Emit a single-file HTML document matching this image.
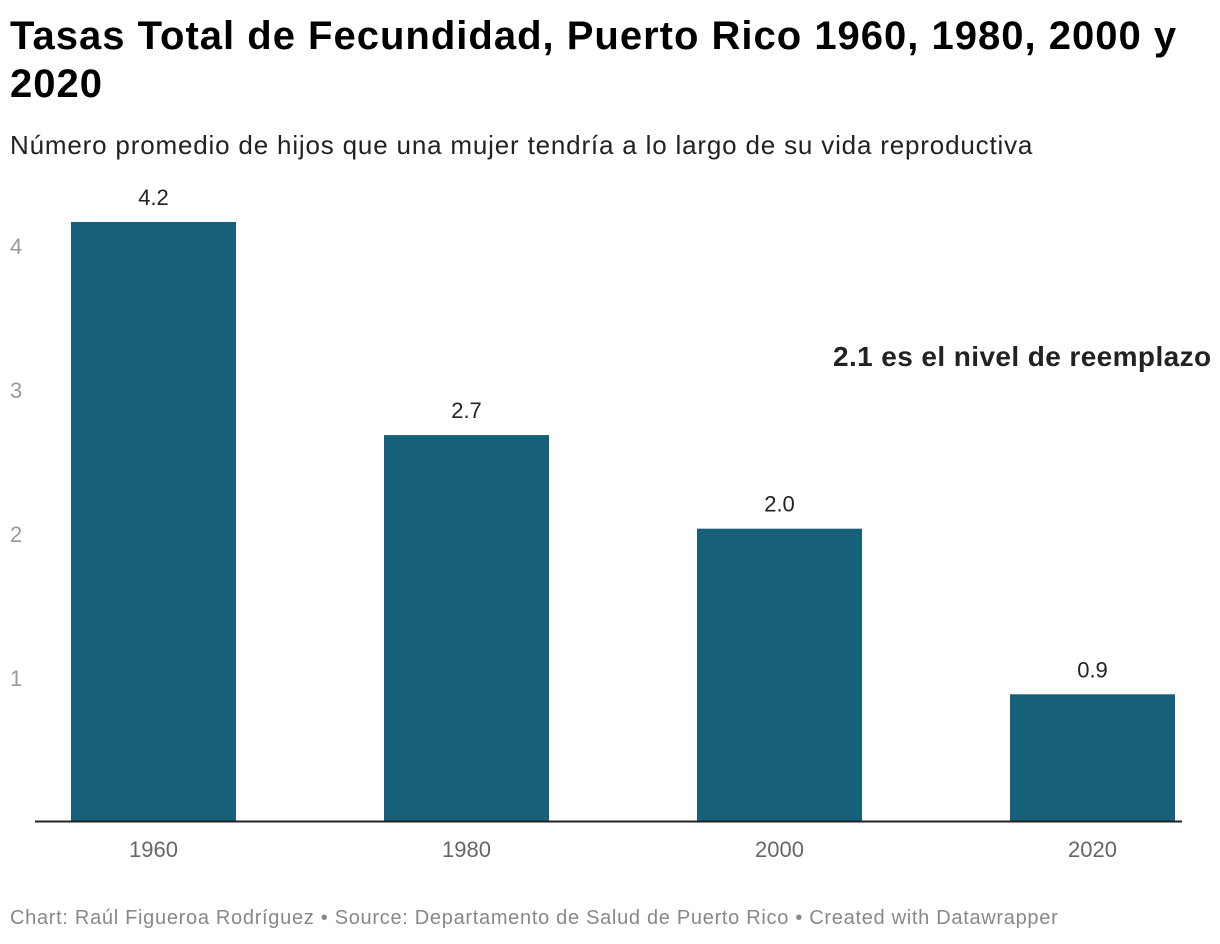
<!DOCTYPE html>
<html><head><meta charset="utf-8"><style>
body{margin:0;background:#fff;font-family:"Liberation Sans",sans-serif;width:1220px;height:944px;overflow:hidden;position:relative}
.t{position:absolute;left:10px;top:12px;font-size:40px;font-weight:bold;line-height:48px;color:#000;width:1210px;letter-spacing:1px}
.s{position:absolute;left:10px;top:130px;font-size:26px;color:#222;letter-spacing:0.82px;white-space:nowrap}
.f{position:absolute;left:10px;top:907px;font-size:20px;color:#888;letter-spacing:0.7px;white-space:nowrap}
</style></head><body>
<div class="t">Tasas Total de Fecundidad, Puerto Rico 1960, 1980, 2000 y<br>2020</div>
<div class="s">Número promedio de hijos que una mujer tendría a lo largo de su vida reproductiva</div>
<svg id="c" width="1220" height="944" style="position:absolute;left:0;top:0"><defs><clipPath id="cp"><rect x="0" y="0" width="1210" height="944"/></clipPath></defs></svg>
<div class="f">Chart: Raúl Figueroa Rodríguez • Source: Departamento de Salud de Puerto Rico • Created with Datawrapper</div>
<script>
const categories=["1960","1980","2000","2020"];
const values=[4.16,2.68,2.03,0.88];
const valueLabels=["4.2","2.7","2.0","0.9"];
const yTicks=[1,2,3,4];
const NS="http://www.w3.org/2000/svg",svg=document.getElementById('c');
const y=v=>821-v*144;
const x=i=>71+i*313;
function mk(t,a,txt){const e=document.createElementNS(NS,t);for(const k in a)e.setAttribute(k,a[k]);if(txt!=null)e.textContent=txt;svg.appendChild(e);return e;}
yTicks.forEach(t=>{
const e=mk('text',{x:10,y:y(t)+9,'font-size':22,fill:'#999','font-family':'Liberation Sans'},String(t));


});
categories.forEach((c,i)=>{
const r=mk('rect',{x:x(i),y:y(values[i]),width:165,height:821-y(values[i]),fill:'#17607a'});


const l=mk('text',{x:x(i)+82.5,y:y(values[i])-17,'font-size':22,fill:'#222','text-anchor':'middle','font-family':'Liberation Sans'},valueLabels[i]);


const xl=mk('text',{x:x(i)+82.5,y:857,'font-size':22,fill:'#666','text-anchor':'middle','font-family':'Liberation Sans'},c);


});
const ax=mk('line',{x1:35,x2:1182,y1:821.5,y2:821.5,stroke:'#222','stroke-width':2});


const an=mk('text',{x:833,y:366,'font-size':28,'font-weight':'bold',fill:'#222','font-family':'Liberation Sans','letter-spacing':'0.4','clip-path':'url(#cp)'},'2.1 es el nivel de reemplazo');


</script>
</body></html>
